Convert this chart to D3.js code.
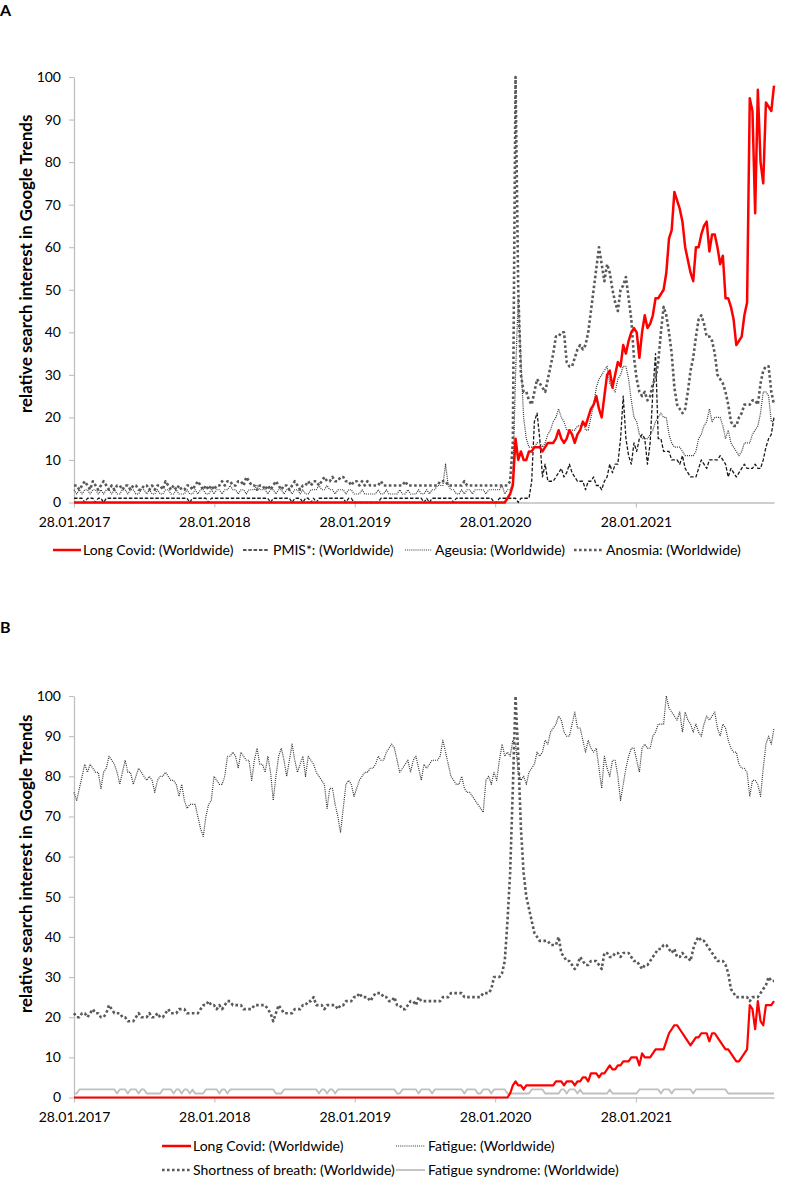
<!DOCTYPE html>
<html>
<head>
<meta charset="utf-8">
<script src="https://cdn.jsdelivr.net/npm/d3@7"></script>
<style>
  body { margin: 0; background: #fff; }
  svg { display: block; font-family: Lato, 'Open Sans', sans-serif; }
</style>
</head>
<body>
<svg id="chart" width="787" height="1187"></svg>
<script>
// weekly Google Trends values, first week 28.01.2017, 261 weeks
const firstWeek = new Date(2017, 0, 28);
const tickDates = ['2017-01-28', '2018-01-28', '2019-01-28', '2020-01-28', '2021-01-28'];
const yTicks = [0, 10, 20, 30, 40, 50, 60, 70, 80, 90, 100];

// panel A
const longCovidA = [
  0,0,0,0,0,0,0,0,0,0,0,0,0,0,0,0,0,0,0,0,
  0,0,0,0,0,0,0,0,0,0,0,0,0,0,0,0,0,0,0,0,
  0,0,0,0,0,0,0,0,0,0,0,0,0,0,0,0,0,0,0,0,
  0,0,0,0,0,0,0,0,0,0,0,0,0,0,0,0,0,0,0,0,
  0,0,0,0,0,0,0,0,0,0,0,0,0,0,0,0,0,0,0,0,
  0,0,0,0,0,0,0,0,0,0,0,0,0,0,0,0,0,0,0,0,
  0,0,0,0,0,0,0,0,0,0,0,0,0,0,0,0,0,0,0,0,
  0,0,0,0,0,0,0,0,0,0,0,0,0,0,0,0,0,0,0,0,
  0,
  1, 2, 4, 15, 10, 12, 10, 10, 12, 12,
  13, 13, 13, 12, 13, 14, 14, 14, 15, 17,
  15, 14, 15, 17, 16, 14, 16, 17, 19, 18,
  20, 22, 23, 25, 22, 20, 25, 30, 31, 27,
  30, 33, 32, 37, 35, 38, 40, 41, 40, 34,
  40, 44, 41, 42, 44, 48, 48, 49, 50, 54,
  62, 64, 73, 71, 69, 66, 60, 57, 54, 52,
  60, 60, 63, 65, 66, 59, 63, 63, 60, 56,
  58, 48, 48, 46, 43, 37, 38, 39, 44, 47,
  95, 92, 68, 97, 80, 75, 94, 93, 92, 98
];
const pmisA = [
  1,1,1,1,0,1,1,1,0,1, 1,0,1,1,1,1,1,1,1,1,
  1,1,1,1,1,1,1,1,1,1, 1,1,1,1,1,1,1,1,1,1,
  1,1,1,0,1,1,1,1,1,1, 0,1,1,1,1,1,1,1,1,1,
  1,1,1,1,1,1,1,1,1,1, 1,1,1,0,1,1,1,1,1,1,
  1,0,1,1,1,0,1,1,0,1, 0,1,1,1,1,1,1,1,1,1,
  1,0,1,1,0,0,0,0,0,0, 0,0,0,0,1,1,1,1,1,1,
  1,1,1,1,1,1,1,1,1,1, 0,1,0,1,1,1,1,1,1,1,
  1,0,1,1,1,1,1,1,1,1, 1,1,1,1,1,1,0,0,1,1,
  1,1,1,1,1,0,1,1,1,1,
  5,19,21,15,6,9,5,5,5,6,
  7,8,6,7,9,7,6,5,5,5,
  3,5,5,6,4,4,3,5,6,9,
  7,9,9,15,25,15,11,9,14,12,
  15,16,15,9,14,26,35,15,15,12,
  12,12,10,10,10,9,11,8,7,6,
  6,6,8,10,9,8,10,10,10,10,
  11,10,9,6,8,7,6,7,8,9,
  8,8,8,9,8,8,10,13,15,16,20
];
const ageusiaA = [
  3,2,3,2,3,3,2,3,3,2, 3,2,3,3,2,3,2,2,3,3,
  2,3,3,2,2,3,3,2,3,2, 2,3,2,2,3,3,2,2,3,2,
  2,2,3,2,2,3,2,3,3,2, 2,3,2,3,3,2,3,3,4,3,
  3,2,3,3,2,3,3,3,4,3, 3,3,2,3,3,2,3,3,2,3,
  3,2,3,3,2,3,2,2,3,3, 3,4,3,3,4,3,3,2,3,3,
  3,2,3,3,2,2,2,3,2,2, 2,2,2,3,2,2,3,2,2,2,
  2,3,2,2,3,2,2,2,3,2, 2,3,2,3,3,4,4,4,9,4,
  3,3,2,2,3,2,3,3,2,3, 3,3,3,2,3,3,3,3,3,4,
  2,3,3,5,30,48,33,20,15,13,
  13,13,14,14,13,14,16,17,19,20,
  22,20,19,17,17,17,17,18,18,19,
  17,17,20,23,27,29,30,31,32,28,
  27,26,29,30,32,32,29,24,20,19,
  16,15,15,15,16,17,19,20,21,20,
  20,16,14,13,13,13,12,11,11,11,
  11,12,15,16,18,19,22,19,20,20,
  20,18,15,17,14,13,12,11,12,14,
  14,14,16,17,18,21,26,26,25,19,19
];
const anosmiaA = [
  4,4,3,4,5,4,3,5,4,3, 4,5,4,3,4,3,4,4,3,4,
  4,3,4,4,3,3,4,4,3,4, 3,4,4,3,5,4,3,4,3,4,
  3,3,4,4,3,4,5,4,3,4, 3,4,3,4,4,5,4,5,5,4,
  4,5,5,4,6,5,4,4,3,4, 4,3,4,3,4,5,4,3,4,4,
  3,4,5,4,3,4,4,5,4,5, 5,4,5,6,5,5,6,5,5,6,
  6,5,5,4,5,5,4,5,4,5, 4,4,4,4,5,4,4,4,4,4,
  4,4,4,5,4,4,4,4,4,4, 4,4,4,4,4,4,5,5,5,4,
  4,4,4,4,4,5,4,4,4,4, 4,4,4,4,4,4,4,4,4,4,
  4,4,5,14,100,50,30,26,26,24,
  23,26,29,28,27,26,29,32,35,39,
  39,40,40,33,32,32,34,36,37,36,
  37,40,45,50,55,60,56,52,56,54,
  50,47,45,50,51,53,48,43,34,29,
  26,25,26,24,25,28,29,33,40,46,
  44,40,35,27,23,22,21,22,26,31,
  34,39,43,44,42,39,39,38,35,30,
  29,28,26,23,19,18,18,20,21,23,
  23,23,24,24,23,28,31,32,32,26,23
];

// panel B
const longCovidB = [
  0,0,0,0,0,0,0,0,0,0,0,0,0,0,0,0,0,0,0,0,
  0,0,0,0,0,0,0,0,0,0,0,0,0,0,0,0,0,0,0,0,
  0,0,0,0,0,0,0,0,0,0,0,0,0,0,0,0,0,0,0,0,
  0,0,0,0,0,0,0,0,0,0,0,0,0,0,0,0,0,0,0,0,
  0,0,0,0,0,0,0,0,0,0,0,0,0,0,0,0,0,0,0,0,
  0,0,0,0,0,0,0,0,0,0,0,0,0,0,0,0,0,0,0,0,
  0,0,0,0,0,0,0,0,0,0,0,0,0,0,0,0,0,0,0,0,
  0,0,0,0,0,0,0,0,0,0,0,0,0,0,0,0,0,0,0,0,
  0,0,
  1,3,4,3,3,2,3,3,
  3,3,3,3,3,3,3,3,3,4,
  4,4,3,4,4,4,3,4,4,5,
  5,4,6,6,6,5,6,6,7,8,
  7,7,8,8,9,9,9,10,10,10,
  8,11,10,10,10,11,12,12,12,12,
  14,16,17,18,18,17,16,15,14,13,
  14,15,15,16,16,16,14,16,16,15,
  14,13,12,12,11,10,9,9,10,11,
  12,23,22,17,24,19,18,23,23,23,24
];
const fatigueB = [
  76,74,77,80,83,81,83,82,81,81, 77,81,82,85,84,83,81,78,81,84,
  81,81,78,80,82,81,80,79,80,79, 76,79,80,80,81,80,79,79,78,75,
  78,74,72,73,73,73,70,67,65,70, 73,74,80,79,78,78,80,85,85,86,
  85,82,86,85,84,84,79,84,87,83, 83,81,85,81,74,80,85,87,84,80,
  84,88,84,81,83,85,80,85,84,83, 81,80,79,78,72,77,77,73,70,66,
  72,78,79,78,75,77,79,80,81,81, 82,82,83,85,84,84,86,87,88,87,
  84,81,82,83,84,81,84,85,82,79, 83,82,83,84,84,84,85,89,86,83,
  80,79,78,78,80,77,76,76,75,74, 73,72,71,79,80,78,81,79,84,88,
  85,86,85,89,88,81,79,80,78,81, 82,83,86,85,86,89,88,91,92,93,
  95,94,91,90,90,93,96,92,92,89, 86,89,87,86,87,82,77,85,82,80,
  84,84,80,74,78,82,85,87,87,84, 81,87,88,87,87,90,91,93,93,93,
  100,97,96,95,94,96,91,96,94,93, 91,93,91,90,93,95,94,95,96,92,
  90,93,92,89,87,86,86,83,82,82, 81,75,79,79,78,75,82,88,90,88,92
];
const breathB = [
  21,20,20,21,21,20,21,22,21,21, 20,20,21,23,22,21,21,21,20,20,
  19,19,19,20,21,20,20,20,21,20, 20,21,20,20,21,22,21,21,21,22,
  22,22,21,21,21,21,21,22,23,23, 24,23,23,22,23,22,23,24,24,23,
  23,23,23,22,22,22,22,23,23,23, 23,23,22,21,19,21,23,22,21,21,
  21,21,22,22,22,23,23,24,24,25, 23,23,23,22,23,23,23,23,22,23,
  23,24,24,24,25,25,26,25,25,25, 24,25,26,26,26,25,25,24,24,25,
  23,23,22,22,23,24,24,23,25,24, 24,24,24,24,24,24,24,25,25,25,
  26,26,26,26,26,25,25,25,25,25, 25,25,26,26,26,27,30,30,30,31,
  34,44,56,77,100,85,67,56,50,47, 44,41,40,39,39,39,39,38,38,38,
  40,36,35,34,34,33,32,33,35,34, 33,33,34,34,34,33,32,36,36,35,
  35,36,36,35,36,36,36,35,34,34, 33,32,33,33,34,35,36,37,37,38,
  38,37,36,37,35,35,36,35,35,34, 37,39,40,39,39,38,37,36,35,34,
  34,34,33,31,27,26,25,25,25,25, 25,24,25,25,25,26,27,28,30,29,29
];
const fatigueSyndromeB = [
  1,1,2,2,2,2,2,2,2,2, 2,2,2,2,2,2,1,2,2,2,
  1,2,2,2,1,2,2,1,1,1, 1,1,1,2,2,2,2,1,2,2,
  1,2,2,1,2,1,1,1,1,2, 2,2,2,2,1,2,2,1,2,2,
  2,2,2,2,2,2,2,2,2,2, 2,2,2,2,2,1,1,1,2,2,
  2,2,2,2,2,2,2,2,2,2, 2,1,2,2,1,2,2,1,2,2,
  2,2,2,2,2,2,2,2,2,2, 2,2,2,2,2,2,2,2,2,2,
  1,1,2,2,2,2,2,2,1,2, 2,2,2,1,2,2,2,2,2,2,
  2,2,2,2,2,1,2,2,2,2, 1,1,2,2,2,1,2,2,2,2,
  2,1,1,1,1,1,1,1,1,1, 2,2,2,2,2,1,1,1,1,1,
  1,2,2,1,2,2,2,1,2,1, 1,1,1,1,1,1,1,1,1,2,
  1,1,1,1,1,1,1,1,1,1, 2,2,2,2,2,2,2,2,1,2,
  2,2,1,2,2,2,2,2,2,2, 1,2,2,2,2,2,2,2,2,2,
  2,2,2,1,1,1,1,1,1,1, 1,1,1,1,1,1,1,1,1,1,1
];

const weeks = d3.range(longCovidA.length).map(function (i) { return d3.timeDay.offset(firstWeek, 7 * i); });
const parseDay = d3.timeParse('%Y-%m-%d');
const formatDay = d3.timeFormat('%d.%m.%Y');

const styles = {
  red: { stroke: '#ff0000', width: 2.5, dash: null, cap: 'butt' },
  dashed: { stroke: '#1a1a1a', width: 1.3, dash: '3.5,1.8', cap: 'butt' },
  fineDots: { stroke: '#333333', width: 1.2, dash: '1,1.1', cap: 'butt' },
  bigDots: { stroke: '#595959', width: 2.6, dash: '2.6,2.4', cap: 'butt' },
  grey: { stroke: '#bfbfbf', width: 1.8, dash: null, cap: 'butt' }
};

const svg = d3.select('#chart');
svg.append('rect').attr('width', 787).attr('height', 1187).attr('fill', '#fff');

function applyStyle(sel, st) {
  sel.attr('fill', 'none')
    .attr('stroke', st.stroke)
    .attr('stroke-width', st.width)
    .attr('stroke-dasharray', st.dash)
    .attr('stroke-linecap', st.cap)
    .attr('stroke-linejoin', 'round');
}

function drawPanel(p) {
  const x = d3.scaleTime()
    .domain([weeks[0], weeks[weeks.length - 1]])
    .range([74, 774]);
  const y = d3.scaleLinear()
    .domain([0, 100])
    .range([p.bottom, p.top]);

  const g = svg.append('g');

  g.append('text')
    .attr('x', 0)
    .attr('y', p.letterY)
    .style('font-weight', 'bold')
    .style('font-size', '16px')
    .text(p.letter);

  const xAx = g.append('g')
    .attr('transform', 'translate(0,' + p.bottom + ')')
    .call(d3.axisBottom(x)
      .tickValues(tickDates.map(parseDay))
      .tickFormat(formatDay)
      .tickSize(5)
      .tickSizeOuter(0));
  xAx.selectAll('.tick text').attr('y', 15);

  const yAx = g.append('g')
    .attr('transform', 'translate(74,0)')
    .call(d3.axisLeft(y)
      .tickValues(yTicks)
      .tickSize(5)
      .tickPadding(8)
      .tickSizeOuter(0));

  [xAx, yAx].forEach(function (a) {
    a.attr('font-family', null).attr('font-size', null);
    a.select('.domain').attr('stroke', '#bfbfbf').attr('stroke-width', 1.3);
    a.selectAll('.tick line').attr('stroke', '#bfbfbf').attr('stroke-width', 1.1);
    a.selectAll('.tick text').attr('fill', '#000').style('font-size', '14px');
  });

  // axis title
  g.append('text')
    .attr('transform', 'translate(32,' + p.titleBottom + ') rotate(-90)')
    .attr('text-anchor', 'start')
    .style('font-weight', 'bold')
    .style('font-size', '16.8px')
    .text('relative search interest in Google Trends');

  const line = d3.line()
    .x(function (d, i) { return x(weeks[i]); })
    .y(function (d) { return y(d); });

  p.series.forEach(function (s) {
    g.append('path')
      .datum(s.values)
      .attr('d', line)
      .call(applyStyle, s.style);
  });

  p.legend.forEach(function (item) {
    g.append('line')
      .attr('x1', item.x)
      .attr('x2', item.x + item.w)
      .attr('y1', item.y)
      .attr('y2', item.y)
      .call(applyStyle, item.style);
    g.append('text')
      .attr('x', item.tx)
      .attr('y', item.y)
      .attr('dy', '0.35em')
      .style('font-size', '14px')
      .text(item.label);
  });
}

drawPanel({
  letter: 'A',
  letterY: 16,
  top: 77,
  bottom: 502.5,
  titleBottom: 413,
  series: [
    { values: pmisA, style: styles.dashed },
    { values: ageusiaA, style: styles.fineDots },
    { values: anosmiaA, style: styles.bigDots },
    { values: longCovidA, style: styles.red }
  ],
  legend: [
    { label: 'Long Covid: (Worldwide)', style: styles.red, x: 53, w: 28, tx: 83, y: 550 },
    { label: 'PMIS*: (Worldwide)', style: styles.dashed, x: 243, w: 26, tx: 273, y: 550 },
    { label: 'Ageusia: (Worldwide)', style: styles.fineDots, x: 405, w: 27, tx: 435, y: 550 },
    { label: 'Anosmia: (Worldwide)', style: styles.bigDots, x: 574, w: 29, tx: 606, y: 550 }
  ]
});

drawPanel({
  letter: 'B',
  letterY: 633,
  top: 696,
  bottom: 1097.5,
  titleBottom: 1013,
  series: [
    { values: fatigueSyndromeB, style: styles.grey },
    { values: fatigueB, style: styles.fineDots },
    { values: breathB, style: styles.bigDots },
    { values: longCovidB, style: { stroke: '#ff0000', width: 2.2, dash: null, cap: 'butt' } }
  ],
  legend: [
    { label: 'Long Covid: (Worldwide)', style: styles.red, x: 162, w: 29, tx: 193, y: 1146 },
    { label: 'Fatigue: (Worldwide)', style: styles.fineDots, x: 396, w: 29, tx: 428, y: 1146 },
    { label: 'Shortness of breath: (Worldwide)', style: styles.bigDots, x: 162, w: 30, tx: 193, y: 1170 },
    { label: 'Fatigue syndrome: (Worldwide)', style: styles.grey, x: 396, w: 29, tx: 428, y: 1170 }
  ]
});
</script>
</body>
</html>
